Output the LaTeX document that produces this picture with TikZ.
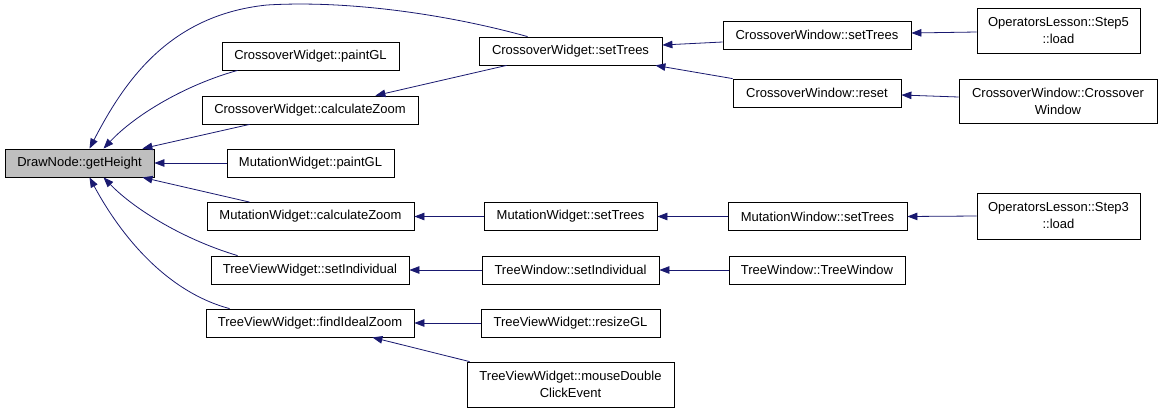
\documentclass[tikz,border=0pt]{standalone}
\usepackage{fontspec}
\setmainfont{Liberation Sans}
\usetikzlibrary{arrows.meta,calc}
\definecolor{edgeblue}{HTML}{191970}
\definecolor{mainfill}{HTML}{BFBFBF}
\tikzset{
  fbox/.style={draw=black, line width=0.8pt, inner sep=0pt, align=center,
    font=\fontsize{13}{17}\selectfont, fill=white},
  edge/.style={draw=edgeblue, line width=0.8pt,
    -{Triangle[length=10pt,width=7.5pt]}, fill=none},
}
\begin{document}
\begin{tikzpicture}[x=1pt,y=-1pt]
\useasboundingbox[fill=white] (0,0) rectangle (1163,413);
% nodes
\node[fbox, fill=mainfill, minimum width=149pt, minimum height=28pt] (dn) at (79.5,163) {DrawNode::getHeight};
\node[fbox, minimum width=177pt, minimum height=28pt] (cwP) at (310.5,56) {CrossoverWidget::paintGL};
\node[fbox, minimum width=216pt, minimum height=28pt] (cwC) at (310,110) {CrossoverWidget::calculateZoom};
\node[fbox, minimum width=167pt, minimum height=28pt] (mwP) at (310.5,163) {MutationWidget::paintGL};
\node[fbox, minimum width=207pt, minimum height=28pt] (mwC) at (310.5,216.5) {MutationWidget::calculateZoom};
\node[fbox, minimum width=198pt, minimum height=28pt] (tvS) at (310,270) {TreeViewWidget::setIndividual};
\node[fbox, minimum width=208pt, minimum height=28pt] (tvF) at (310,323) {TreeViewWidget::findIdealZoom};
\node[fbox, minimum width=183pt, minimum height=28pt] (csT) at (570.5,51) {CrossoverWidget::setTrees};
\node[fbox, minimum width=173pt, minimum height=28pt] (mwS) at (570.5,216.5) {MutationWidget::setTrees};
\node[fbox, minimum width=177pt, minimum height=28pt] (twS) at (570.5,270) {TreeWindow::setIndividual};
\node[fbox, minimum width=179pt, minimum height=28pt] (tvR) at (570.5,323) {TreeViewWidget::resizeGL};
\node[fbox, minimum width=207pt, minimum height=45pt] (tvM) at (570.5,384.5) {TreeViewWidget::mouseDouble\\ClickEvent};
\node[fbox, minimum width=188pt, minimum height=28pt] (cwinS) at (817,35) {CrossoverWindow::setTrees};
\node[fbox, minimum width=168pt, minimum height=28pt] (cwinR) at (817,93) {CrossoverWindow::reset};
\node[fbox, minimum width=179pt, minimum height=28pt] (mwinS) at (817.5,216.5) {MutationWindow::setTrees};
\node[fbox, minimum width=176pt, minimum height=28pt] (twT) at (817,270) {TreeWindow::TreeWindow};
\node[fbox, minimum width=163pt, minimum height=45pt] (st5) at (1058.5,30.5) {OperatorsLesson::Step5\\::load};
\node[fbox, minimum width=198pt, minimum height=44pt] (cwinC) at (1058,101) {CrossoverWindow::Crossover\\Window};
\node[fbox, minimum width=163pt, minimum height=46pt] (st3) at (1058.5,216) {OperatorsLesson::Step3\\::load};
% edges into DrawNode::getHeight
\draw[edge] ($(csT.north west)+(49,0)$) .. controls (450,15) and (350,0) .. (267,5)
  .. controls (170,15) and (125,80) .. ($(dn.north)+(10,0)$);
\draw[edge] ($(cwP.south west)+(16,0)$) .. controls (185,85) and (135,115) .. ($(dn.north)+(24,0)$);
\draw[edge] ($(cwC.south west)+(48,0)$) -- ($(dn.north east)+(-12,0)$);
\draw[edge] (mwP.west) -- (dn.east);
\draw[edge] ($(mwC.north west)+(43,0)$) -- ($(dn.south east)+(-12,0)$);
\draw[edge] ($(tvS.north west)+(27,0)$) .. controls (185,240) and (135,210) .. ($(dn.south)+(24,0)$);
\draw[edge] ($(tvF.north west)+(24,0)$) .. controls (160,290) and (115,225) .. ($(dn.south)+(10,0)$);
% second level
\draw[edge] ($(csT.south west)+(28,0)$) -- ($(cwC.north east)+(-43,0)$);
\draw[edge] (mwS.west) -- (mwC.east);
\draw[edge] (twS.west) -- (tvS.east);
\draw[edge] (tvR.west) -- (tvF.east);
\draw[edge] ($(tvM.north west)+(3,0)$) -- ($(tvF.south east)+(-42,0)$);
% third level
\draw[edge] ($(cwinS.west)+(0,7)$) -- ($(csT.east)+(0,-6)$);
\draw[edge] ($(cwinR.north west)+(0,0)$) -- ($(csT.south east)+(-7,0)$);
\draw[edge] (mwinS.west) -- (mwS.east);
\draw[edge] (twT.west) -- (twS.east);
% fourth level
\draw[edge] ($(st5.west)+(0,1.5)$) -- ($(cwinS.east)+(0,-2)$);
\draw[edge] ($(cwinC.west)+(0,-4)$) -- ($(cwinR.east)+(0,2)$);
\draw[edge] (st3.west) -- (mwinS.east);
\end{tikzpicture}
\end{document}
